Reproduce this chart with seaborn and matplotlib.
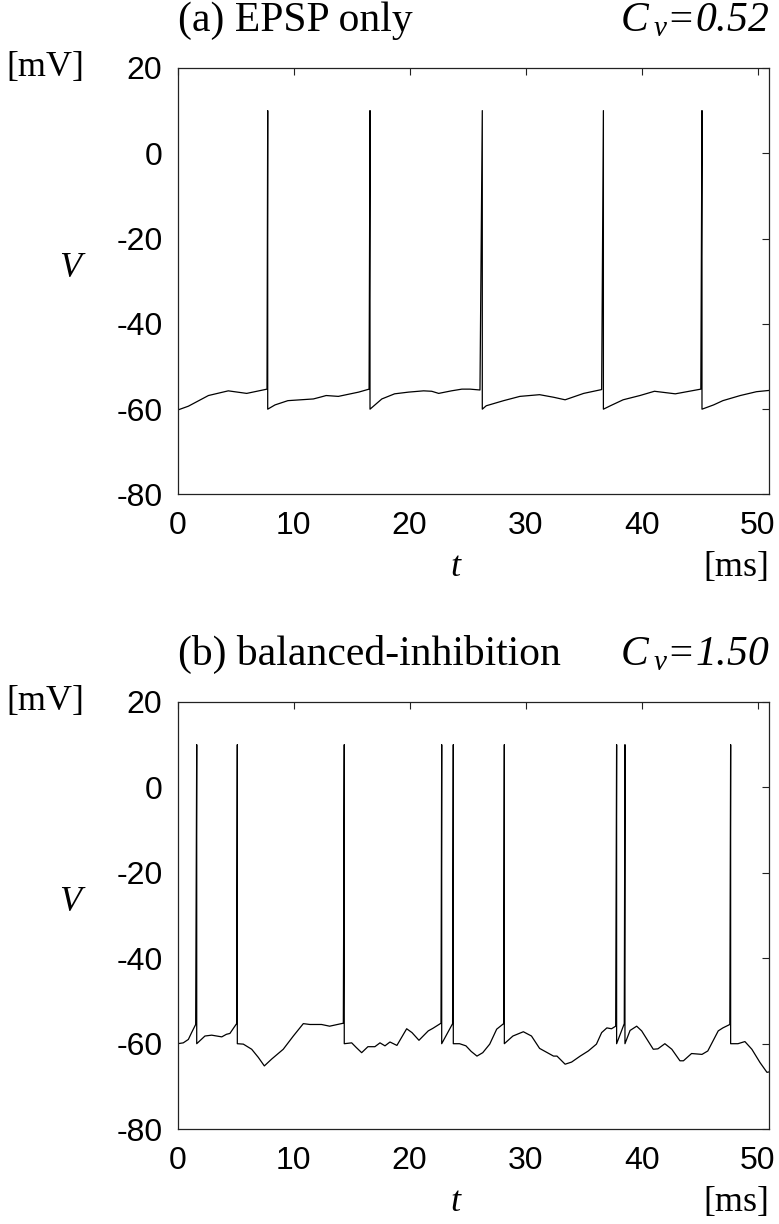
import numpy as np
import pandas as pd
import matplotlib
matplotlib.use("Agg")
import matplotlib.pyplot as plt
import seaborn as sns

# ---------------- data ----------------
V_PEAK = 10.0
V_RESET = -60.0

# (a) EPSP only
spikes_a = [7.76, 16.58, 26.26, 36.7, 45.2]
t_a = [0.0, 0.92, 2.65, 4.36, 5.95, 7.7,
       8.39, 9.5, 11.7, 12.4, 12.8, 13.85, 15.6, 16.5,
       17.6, 18.7, 19.9, 21.2, 21.9, 22.5, 23.6, 24.5, 25.2, 26.06,
       26.6, 28.1, 29.5, 31.2, 32.4, 33.4, 35.0, 36.55,
       37.3, 38.4, 39.85, 41.1, 42.9, 45.1,
       46.2, 47.0, 48.5, 49.9, 51.0]
v_a = [-60.2, -59.3, -56.8, -55.7, -56.3, -55.3,
       -59.0, -58.0, -57.6, -57.1, -56.8, -57.0, -56.0, -55.3,
       -57.6, -56.4, -56.0, -55.7, -55.8, -56.3, -55.7, -55.3, -55.3, -55.5,
       -59.2, -58.0, -57.0, -56.6, -57.2, -57.8, -56.3, -55.4,
       -59.2, -57.8, -56.8, -55.8, -56.4, -55.3,
       -59.0, -58.0, -56.8, -55.9, -55.6]

# (b) balanced-inhibition
spikes_b = [1.64, 5.14, 14.36, 22.76, 23.76, 28.16, 37.84, 38.56, 47.67]
t_b = [0.0, 0.48, 0.92, 1.2, 1.55,
       2.35, 2.93, 3.8, 4.2, 4.5, 5.08,
       5.66, 6.38, 6.95, 7.47, 8.1, 9.1, 9.97, 10.83, 11.4, 11.8, 12.4, 13.1, 14.28,
       15.0, 15.4, 15.86, 16.4, 17.0, 17.44, 17.87, 18.3, 18.9, 19.74, 20.2, 20.8,
       21.6, 22.0, 22.7,
       23.7,
       24.3, 24.85, 25.3, 25.8, 26.3, 26.9, 27.5, 28.1,
       28.9, 29.8, 30.5, 31.2, 32.4, 32.7, 33.4, 33.96, 34.7, 35.4, 36.1, 36.55,
       37.0, 37.4, 37.76,
       38.5,
       39.0, 39.57, 40.0, 41.0, 41.4, 42.0, 42.6, 43.3, 43.6, 44.3, 45.2, 45.7,
       46.6, 47.0, 47.6,
       48.3, 48.9, 49.5, 50.2, 50.8, 51.0]
v_b = [-60.0, -59.8, -59.0, -57.4, -55.5,
       -58.2, -58.0, -58.4, -57.8, -57.6, -55.3,
       -60.1, -61.3, -63.2, -65.2, -63.6, -61.3, -58.2, -55.3, -55.5, -55.5, -55.5, -55.9, -55.2,
       -59.8, -60.9, -62.1, -60.7, -60.7, -59.8, -60.5, -59.6, -60.4, -56.5, -57.4, -59.2,
       -57.0, -56.4, -55.2,
       -55.3,
       -60.0, -60.5, -61.8, -62.9, -62.1, -60.1, -56.6, -55.3,
       -58.2, -57.2, -58.2, -61.1, -62.9, -62.9, -64.8, -64.3, -62.9, -61.7, -60.1, -57.4,
       -56.3, -56.5, -55.9,
       -55.3,
       -56.9, -55.9, -57.0, -61.3, -61.2, -60.0, -61.3, -64.0, -64.0, -62.3, -62.5, -61.7,
       -57.0, -56.3, -55.5,
       -60.0, -59.5, -61.3, -64.4, -66.7, -66.6]

panel_titles = ["(a) EPSP only", "(b) balanced-inhibition"]
cv_values = ["0.52", "1.50"]
x_ticks = [0, 10, 20, 30, 40, 50]
y_ticks = [-80, -60, -40, -20, 0, 20]


def build_trace(t, v, spikes):
    rows = [(ti, vi, 0) for ti, vi in zip(t, v)]
    for s in spikes:
        rows.append((s, V_PEAK, 1))
        rows.append((s, V_RESET, 2))
    df = pd.DataFrame(rows, columns=["t", "V", "k"])
    return df.sort_values(["t", "k"], kind="stable").reset_index(drop=True)


sns.set_theme(style="white")
plt.rcParams["font.family"] = ["Liberation Sans", "DejaVu Sans"]
plt.rcParams["mathtext.fontset"] = "custom"
plt.rcParams["mathtext.it"] = "Liberation Serif:italic"
plt.rcParams["mathtext.rm"] = "Liberation Serif"
plt.rcParams["axes.unicode_minus"] = False
plt.rcParams["text.color"] = "black"

fig = plt.figure(figsize=(7.79, 12.24), dpi=100)
fig.patch.set_facecolor("white")

positions = [[0.2281, 0.5960, 0.7594, 0.3485],
             [0.2281, 0.0775, 0.7594, 0.3490]]
traces = [build_trace(t_a, v_a, spikes_a), build_trace(t_b, v_b, spikes_b)]

serif = "Liberation Serif"
for i, ax_pos in enumerate(positions):
    ax = fig.add_axes(ax_pos)
    ax.set_facecolor("white")
    sns.lineplot(data=traces[i], x="t", y="V", sort=False, estimator=None,
                 color="black", lw=0.9, ax=ax)
    ax.set_xlim(0, 51)
    ax.set_ylim(-80, 20)
    ax.set_xticks(x_ticks)
    ax.set_yticks(y_ticks)
    ax.set_xlabel("")
    ax.set_ylabel("")
    for sp in ax.spines.values():
        sp.set_visible(True)
        sp.set_color("#222222")
        sp.set_linewidth(0.9)
    ax.tick_params(direction="in", length=5, width=0.8, color="#222222",
                   top=True, right=True, labeltop=False, labelright=False,
                   labelsize=23, labelcolor="black")
    ax.tick_params(axis="x", pad=12)
    ax.tick_params(axis="y", pad=11)
    ax.grid(False)

    ax.text(0.0, 1.11, panel_titles[i], transform=ax.transAxes, ha="left",
            va="center", fontsize=30, family=serif, color="black")
    ax.text(1.0, 1.11, r"$C\,_{v}$" + "=" + cv_values[i], transform=ax.transAxes,
            ha="right", va="center", fontsize=30, family=serif, style="italic",
            color="black")
    ax.text(-0.224, 1.0, "[mV]", transform=ax.transAxes, ha="center",
            va="center", fontsize=26, family=serif, color="black")
    ax.text(-0.182, 0.53, "V", transform=ax.transAxes, ha="center",
            va="center", fontsize=26, family=serif, style="italic", color="black")
    ax.text(0.469, -0.172, "t", transform=ax.transAxes, ha="center",
            va="center", fontsize=26, family=serif, style="italic", color="black")
    ax.text(1.0, -0.172, "[ms]", transform=ax.transAxes, ha="right",
            va="center", fontsize=26, family=serif, color="black")

fig.savefig("out.png", dpi=100, facecolor="white")
